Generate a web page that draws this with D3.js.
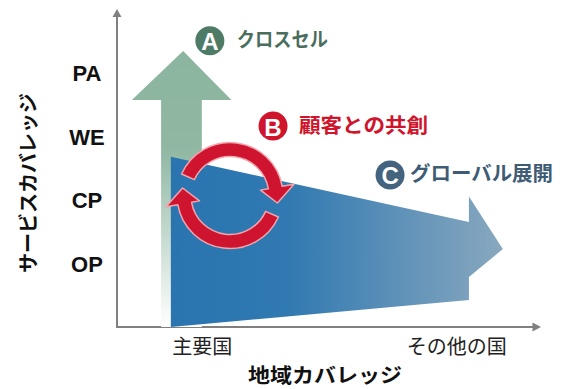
<!DOCTYPE html>
<html>
<head>
<meta charset="utf-8">
<script src="https://cdn.jsdelivr.net/npm/d3@7"></script>
<style>
  body { margin: 0; background: #fff; }
  svg { display: block; }
</style>
</head>
<body>
<script>
var width = 563;
var height = 389;

// axis categories
var serviceLevels = ["OP", "CP", "WE", "PA"];
var levelValues = [20, 40, 60, 80];
var regions = ["主要国", "その他の国"];
var regionValues = [20, 80];

// strategy labels
var badgeKeys = ["A", "B", "C"];
var badgeLabels = ["クロスセル", "顧客との共創", "グローバル展開"];

// arrow outlines (x = region, y = service level)
var greenArrow = [[10.4, 0], [10.4, 71.4], [3.5, 71.4], [15.6, 86.8], [27, 71.4], [20, 71.4], [20, 0]];
var blueArrow = [[12.7, 53.5], [83, 33], [83, 41], [91, 24.5], [83, 15.7], [83, 8.5], [12.7, 0]];

var frame = d3.select("body").append("svg")
    .attr("width", width)
    .attr("height", height);

var x = d3.scaleLinear().domain([0, 100]).range([117, 541]);
var y = d3.scaleLinear().domain([0, 100]).range([327, 9]);

var jp = "'Noto Sans CJK JP', 'Noto Sans', sans-serif";

var defs = frame.append("defs");

var gGreen = defs.append("linearGradient")
    .attr("id", "greenFade")
    .attr("gradientUnits", "userSpaceOnUse")
    .attr("x1", 0).attr("x2", 0)
    .attr("y1", y(86.8)).attr("y2", y(0));
gGreen.append("stop").attr("offset", 0).attr("stop-color", "#8cb5a0");
gGreen.append("stop").attr("offset", 0.35).attr("stop-color", "#8fb7a2");
gGreen.append("stop").attr("offset", 0.65).attr("stop-color", "#c2d8cc");
gGreen.append("stop").attr("offset", 1).attr("stop-color", "#ffffff");

var gBlue = defs.append("linearGradient")
    .attr("id", "blueFade")
    .attr("gradientUnits", "userSpaceOnUse")
    .attr("y1", 0).attr("y2", 0)
    .attr("x1", x(12.7)).attr("x2", x(91));
gBlue.append("stop").attr("offset", 0).attr("stop-color", "#2a75b0");
gBlue.append("stop").attr("offset", 0.35).attr("stop-color", "#3079b1");
gBlue.append("stop").attr("offset", 1).attr("stop-color", "#89a8bf");

var line = d3.line().x(function(d) { return x(d[0]); }).y(function(d) { return y(d[1]); });

//// axes ////
frame.append("line")
    .attr("x1", x(0)).attr("x2", x(0))
    .attr("y1", y(0)).attr("y2", y(98))
    .attr("stroke", "#808080").attr("stroke-width", 2);
frame.append("path")
    .attr("d", "M" + (x(0) - 4.5) + "," + y(97.5) + "L" + x(0) + "," + y(100) + "L" + (x(0) + 4.5) + "," + y(97.5) + "Z")
    .attr("fill", "#808080");

frame.append("line")
    .attr("x1", x(0) - 1).attr("x2", x(98.5))
    .attr("y1", y(0)).attr("y2", y(0))
    .attr("stroke", "#808080").attr("stroke-width", 2);
frame.append("path")
    .attr("d", "M" + x(98) + "," + (y(0) - 4.5) + "L" + x(100) + "," + y(0) + "L" + x(98) + "," + (y(0) + 4.5) + "Z")
    .attr("fill", "#808080");

// level labels
var yAxis = d3.axisLeft(y)
    .tickValues(levelValues)
    .tickFormat(function(d, i) { return serviceLevels[i]; })
    .tickSize(0)
    .tickPadding(30);
var yg = frame.append("g").attr("transform", "translate(" + x(0) + ",0)").call(yAxis);
yg.select(".domain").remove();
yg.selectAll("text")
    .attr("text-anchor", "middle")
    .attr("dy", "0.36em")
    .style("font-family", "'Liberation Sans', Arial, sans-serif")
    .style("font-weight", "bold")
    .style("font-size", "22px")
    .attr("fill", "#111");

// region labels
var xAxis = d3.axisBottom(x)
    .tickValues(regionValues)
    .tickFormat(function(d, i) { return regions[i]; })
    .tickSize(0)
    .tickPadding(13);
var xg = frame.append("g").attr("transform", "translate(0," + y(0) + ")").call(xAxis);
xg.select(".domain").remove();
xg.selectAll("text")
    .style("font-family", jp)
    .style("font-size", "20px")
    .attr("fill", "#222");

// axis titles
frame.append("text")
    .attr("transform", "translate(27,183) rotate(-90)")
    .attr("text-anchor", "middle")
    .attr("dominant-baseline", "central")
    .style("font-family", jp)
    .style("font-weight", "bold")
    .style("font-size", "20px")
    .attr("fill", "#111")
    .text("サービスカバレッジ");

frame.append("text")
    .attr("x", 325).attr("y", 374)
    .attr("text-anchor", "middle")
    .attr("dominant-baseline", "central")
    .attr("textLength", 154)
    .attr("lengthAdjust", "spacingAndGlyphs")
    .style("font-family", jp)
    .style("font-weight", "bold")
    .style("font-size", "20px")
    .attr("fill", "#111")
    .text("地域カバレッジ");

//// arrows ////
frame.append("path")
    .attr("d", line(greenArrow) + "Z")
    .attr("fill", "url(#greenFade)");

frame.append("path")
    .attr("d", line(blueArrow) + "Z")
    .attr("fill", "url(#blueFade)");

// circular red arrows (compass angles in degrees, clockwise from north)
var cx = 230, cy = 195.5, R = 46, w = 14, hw = 17;
function pt(r, a) {
    var t = a * Math.PI / 180;
    return [cx + r * Math.sin(t), cy - r * Math.cos(t)];
}
function cycleArrow(a0, a1, a2) {
    var ro = R + w / 2, ri = R - w / 2, rh = R + 2;
    var p0 = pt(ro, a0), p1 = pt(ro, a1), h1 = pt(rh + hw, a1), tip = pt(rh, a2),
        h2 = pt(rh - hw, a1), p2 = pt(ri, a1), p3 = pt(ri, a0);
    var big = (a1 - a0) > 180 ? 1 : 0;
    return "M" + p0 + "A" + ro + "," + ro + " 0 " + big + " 1 " + p1 +
        "L" + h1 + "L" + tip + "L" + h2 + "L" + p2 +
        "A" + ri + "," + ri + " 0 " + big + " 0 " + p3 + "Z";
}
var cycles = [[-66, 80, 99], [114, 260, 279]];
frame.selectAll(".cycle")
    .data(cycles)
    .enter().append("path")
    .attr("class", "cycle")
    .attr("d", function(d) { return cycleArrow(d[0], d[1], d[2]); })
    .attr("fill", "#cf1430")
    .attr("stroke", "#f3a5ad")
    .attr("stroke-width", 1.5)
    .attr("stroke-linejoin", "round");

//// badges ////
var badgePos = [[21.9, 90], [36.8, 63.2], [64.4, 47.8]];
var badgeColor = ["#4e7b65", "#d0142c", "#44637f"];
var textColor = ["#4a6d5d", "#d0142c", "#3f5c75"];
var textGap = [27, 26, 20];
var textLen = [91, 129, 143];

badgeKeys.forEach(function(k, i) {
    var bx = x(badgePos[i][0]), by = y(badgePos[i][1]);
    frame.append("circle")
        .attr("cx", bx).attr("cy", by).attr("r", 14.5)
        .attr("fill", badgeColor[i]);
    frame.append("text")
        .attr("x", bx).attr("y", by + 1)
        .attr("text-anchor", "middle")
        .attr("dominant-baseline", "central")
        .style("font-family", "'Liberation Sans', Arial, sans-serif")
        .style("font-weight", "bold")
        .style("font-size", "24px")
        .attr("fill", "#fff")
        .text(k);
    frame.append("text")
        .attr("x", bx + textGap[i]).attr("y", by - 2)
        .attr("dominant-baseline", "central")
        .attr("textLength", textLen[i])
        .attr("lengthAdjust", "spacingAndGlyphs")
        .style("font-family", jp)
        .style("font-weight", "bold")
        .style("font-size", "20px")
        .attr("fill", textColor[i])
        .text(badgeLabels[i]);
});
</script>
</body>
</html>
